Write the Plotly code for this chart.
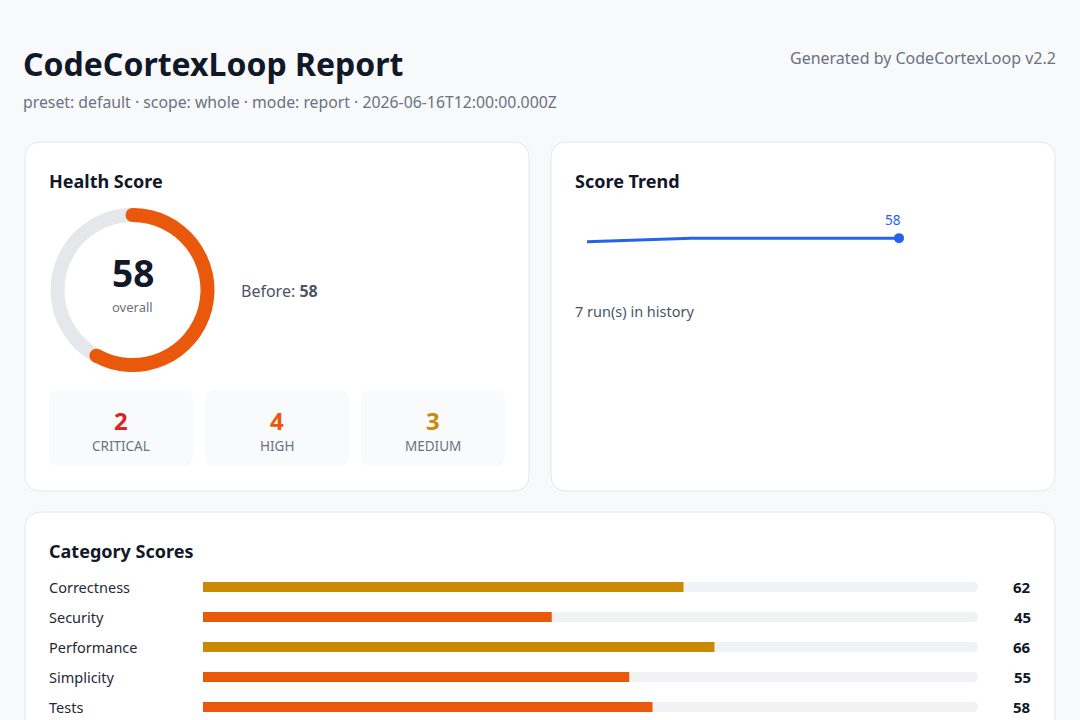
import math
import plotly.graph_objects as go

# ---------------- data ----------------
overall_score = 58
before_score = 58
trend_runs = [1, 2, 3, 4, 5, 6, 7]
trend_scores = [55, 56.5, 58, 58, 58, 58, 58]
severity_labels = ["CRITICAL", "HIGH", "MEDIUM"]
severity_counts = [2, 4, 3]
severity_colors = ["#dc2626", "#ea580c", "#ca8a04"]
categories = ["Correctness", "Security", "Performance", "Simplicity", "Tests"]
category_scores = [62, 45, 66, 55, 58]

title_text = "CodeCortexLoop Report"
subtitle_text = "preset: default · scope: whole · mode: report · 2026-06-16T12:00:00.000Z"
generator_text = "Generated by CodeCortexLoop v2.2"

W, H = 1080, 720
FONT = "Noto Sans"
DARK = "#111827"
GRAY = "#6b7280"
ORANGE = "#ea580c"
AMBER = "#ca8a04"
BLUE = "#2563eb"


def px(x):
    return x / W


def py(y):
    return 1 - y / H


def rr(x0, y0, x1, y1, r):
    pts = [
        ("M", x0 + r, y0), ("L", x1 - r, y0), ("Q", x1, y0, x1, y0 + r),
        ("L", x1, y1 - r), ("Q", x1, y1, x1 - r, y1), ("L", x0 + r, y1),
        ("Q", x0, y1, x0, y1 - r), ("L", x0, y0 + r), ("Q", x0, y0, x0 + r, y0),
    ]
    s = ""
    for p in pts:
        cmd = p[0]
        coords = p[1:]
        parts = []
        for i in range(0, len(coords), 2):
            parts.append(f"{px(coords[i]):.6f},{py(coords[i+1]):.6f}")
        s += cmd + " " + " ".join(parts) + " "
    return s + "Z"


fig = go.Figure()

shapes = []
# cards
for (x0, y0, x1, y1) in [(25, 142, 529, 491), (551, 142, 1055, 491), (25, 512, 1055, 760)]:
    shapes.append(dict(type="path", path=rr(x0, y0, x1, y1, 16), xref="paper", yref="paper",
                       fillcolor="white", line=dict(color="#e5e7eb", width=1), layer="below"))
# severity boxes
sev_x = [(49, 193), (205, 349), (361, 505)]
for (x0, x1) in sev_x:
    shapes.append(dict(type="path", path=rr(x0, 390, x1, 466, 10), xref="paper", yref="paper",
                       fillcolor="#f8fafc", line=dict(width=0), layer="below"))

# ---------------- donut ----------------
cx, cy, R = 132.5, 290, 82
ring = 14
hole = (R - ring) / R
fig.add_trace(go.Pie(
    values=[overall_score, 100 - overall_score], sort=False, direction="clockwise", rotation=0,
    hole=hole, marker=dict(colors=[ORANGE, "#e5e7eb"], line=dict(width=0)),
    textinfo="none", hoverinfo="skip", showlegend=False,
    domain=dict(x=[px(cx - R), px(cx + R)], y=[py(cy + R), py(cy - R)]),
))
# rounded caps of the score arc
rm = R - ring / 2
cr = ring / 2
for ang in [0, overall_score / 100 * 360]:
    a = math.radians(ang)
    ex = cx + rm * math.sin(a)
    ey = cy - rm * math.cos(a)
    shapes.append(dict(type="circle", xref="paper", yref="paper",
                       x0=px(ex - cr), x1=px(ex + cr), y0=py(ey + cr), y1=py(ey - cr),
                       fillcolor=ORANGE, line=dict(width=0), layer="above"))

# ---------------- trend line ----------------
fig.add_trace(go.Scatter(
    x=trend_runs, y=trend_scores, mode="lines", line=dict(color=BLUE, width=3),
    hoverinfo="skip", showlegend=False, xaxis="x3", yaxis="y3", cliponaxis=False,
))
fig.add_trace(go.Scatter(
    x=[trend_runs[-1]], y=[trend_scores[-1]], mode="markers",
    marker=dict(color=BLUE, size=10),
    hoverinfo="skip", showlegend=False, xaxis="x3", yaxis="y3", cliponaxis=False,
))

# ---------------- category bars ----------------
bar_colors = [AMBER if v >= 60 else ORANGE for v in category_scores]
fig.add_trace(go.Bar(
    y=categories, x=[100] * len(categories), orientation="h", width=0.34,
    marker=dict(color="#f1f2f4", cornerradius=5, line=dict(width=0)),
    hoverinfo="skip", showlegend=False, xaxis="x2", yaxis="y2",
))
fig.add_trace(go.Bar(
    y=categories, x=category_scores, orientation="h", width=0.34,
    marker=dict(color=bar_colors, cornerradius=5, line=dict(width=0)),
    hoverinfo="skip", showlegend=False, xaxis="x2", yaxis="y2",
))

ann = []


def text(x, y, t, size, color, anchor="left", bold=False, ref=("paper", "paper"),
         yanchor="middle", yshift=0, xshift=0):
    ann.append(dict(x=x, y=y, xref=ref[0], yref=ref[1], text=f"<b>{t}</b>" if bold else t,
                    showarrow=False, xanchor=anchor, yanchor=yanchor, yshift=yshift, xshift=xshift,
                    font=dict(family=FONT, size=size, color=color)))


text(px(21), py(63), title_text, 32, DARK, bold=True)
text(px(21), py(102), subtitle_text, 15.8, GRAY)
text(px(1058), py(58), generator_text, 16, GRAY, anchor="right")
text(px(47), py(181), "Health Score", 18, DARK, bold=True)
text(px(573), py(181), "Score Trend", 18, DARK, bold=True)
text(px(47), py(551), "Category Scores", 18, DARK, bold=True)
text(px(cx), py(272), str(overall_score), 37, DARK, anchor="center", bold=True)
text(px(cx), py(307), "overall", 13, GRAY, anchor="center")
text(px(239), py(291), f"Before: <b>{before_score}</b>", 16, "#4b5563")
text(px(573), py(311), f"{len(trend_runs)} run(s) in history", 14.5, "#4b5563")
# last-point label on the trend
text(trend_runs[-1], trend_scores[-1], str(round(trend_scores[-1])), 13.5, BLUE,
     anchor="right", ref=("x3", "y3"), yanchor="bottom", yshift=7, xshift=4)
for (x0, x1), lab, n, c in zip(sev_x, severity_labels, severity_counts, severity_colors):
    text(px((x0 + x1) / 2), py(420), str(n), 24, c, anchor="center", bold=True)
    text(px((x0 + x1) / 2), py(446), lab, 13.5, GRAY, anchor="center")
for cat, v in zip(categories, category_scores):
    text(px(47), cat, cat, 14.5, "#1f2937", ref=("paper", "y2"))
    text(px(1033), cat, str(v), 15, DARK, anchor="right", bold=True, ref=("paper", "y2"))

hidden = dict(visible=False, showgrid=False, zeroline=False, fixedrange=True)
fig.update_layout(
    width=W, height=H, autosize=False,
    margin=dict(l=0, r=0, t=0, b=0),
    paper_bgcolor="#f8f9fb", plot_bgcolor="rgba(0,0,0,0)",
    font=dict(family=FONT),
    barmode="overlay",
    shapes=shapes, annotations=ann,
    xaxis=dict(**hidden, domain=[0, 0.01]),
    yaxis=dict(**hidden, domain=[0, 0.01]),
    xaxis2=dict(**hidden, domain=[px(203), px(978)], range=[0, 100], anchor="y2"),
    yaxis2=dict(**hidden, domain=[py(720), py(572)], range=[4.433, -0.5], anchor="x2",
                type="category", categoryorder="array", categoryarray=categories),
    xaxis3=dict(**hidden, domain=[px(587), px(899)], range=[1, 7], anchor="y3"),
    yaxis3=dict(**hidden, domain=[py(306), py(189)], range=[0, 100], anchor="x3"),
)

fig.write_html("out.html", config=dict(displayModeBar=False))
